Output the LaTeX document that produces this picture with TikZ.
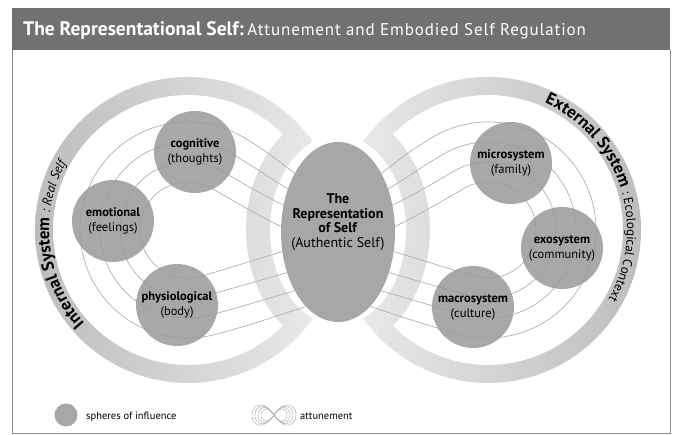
\documentclass[tikz,border=0pt]{standalone}
\usepackage{fontspec}
\setmainfont{PT Sans}
\usetikzlibrary{calc, positioning, shapes, decorations.text}
\definecolor{barGray}{HTML}{717171}
\definecolor{frameGray}{HTML}{8C8C8C}
\definecolor{sphereGray}{HTML}{999999}
\definecolor{selfGray}{HTML}{A7A7A7}
\definecolor{ringDark}{HTML}{BDBDBD}
\definecolor{ringLight}{HTML}{E8E8E8}
\definecolor{lineGray}{HTML}{B0B0B0}
\def\ringbold{\bfseries\fontsize{17}{17}\selectfont}
\def\ringplain{\fontsize{13}{13}\selectfont}
\tikzstyle{sphere}=[circle, fill=sphereGray, fill opacity=0.85, text opacity=1, minimum size=82pt, inner sep=0pt, align=center, font=\fontsize{12.5}{15}\selectfont]
\tikzstyle{self ellipse}=[ellipse, fill=selfGray, minimum width=114pt, minimum height=180pt, inner sep=0pt]
\tikzstyle{self text}=[align=center, inner sep=0pt, font=\fontsize{14}{14.5}\selectfont]
\tikzstyle{key sphere}=[circle, fill=selfGray, minimum size=23pt, inner sep=0pt]
\tikzstyle{attune}=[lineGray, line width=0.7pt]
\tikzstyle{annot}=[anchor=base west, inner sep=0pt, font=\fontsize{10.5}{12}\selectfont]
\tikzstyle{heading}=[anchor=base west, inner sep=0pt, text=white]

\begin{document}
\begin{tikzpicture}[x=1pt, y=1pt]
\useasboundingbox (0,0) rectangle (676,435);

% Draw the frame and the title bar
\draw[frameGray, line width=0.8pt] (12,385) -- (12,2) -- (670,2) -- (670,385);
\fill[barGray] (12,385) rectangle (670,427);
\node[heading, font=\bfseries\fontsize{19.5}{19.5}\selectfont] (title) at (23,399) {The Representational Self:};
\node[heading, font=\fontsize{17}{17}\selectfont\addfontfeatures{LetterSpace=5}] (subtitle) at ([xshift=3pt]title.base east) {Attunement and Embodied Self Regulation};

% Draw the left lobe: outer ring and inner band meet in a point
\begin{scope}
  \clip \foreach \s in {1,-1} {
    ($(188,205)+(\s*35.3:153)$) arc[start angle=\s*35.3, end angle=\s*180, radius=153]
    -- (53,205) arc[start angle=\s*180, end angle=\s*45.1, radius=135]
    arc[start angle=\s*126.5, end angle=\s*180, x radius=92, y radius=119]
    -- (270,205) arc[start angle=\s*180, end angle=\s*111.8, x radius=68, y radius=95] -- cycle};
  \shade[left color=ringDark, right color=ringLight] (35,45) rectangle (315,365);
\end{scope}

% Draw the right lobe
\begin{scope}
  \clip \foreach \s in {1,-1} {
    ($(488,205)+(\s*144.7:153)$) arc[start angle=\s*144.7, end angle=0, radius=153]
    -- (623,205) arc[start angle=0, end angle=\s*134.9, radius=135]
    arc[start angle=\s*53.5, end angle=0, x radius=92, y radius=119]
    -- (406,205) arc[start angle=0, end angle=\s*68.2, x radius=68, y radius=95] -- cycle};
  \shade[left color=ringLight, right color=ringDark] (361,45) rectangle (641,365);
\end{scope}

% Draw the attunement lines on both sides
\foreach \sx/\cx in {1/188, -1/488} {
  \begin{scope}[shift={(\cx,205)}, xscale=\sx]
    \foreach \r/\yt/\yb in {48/-13/-10, 68/10/-33, 88/27/-53, 108/45/-72}
      \draw[attune] (134,\yt) .. controls +(165:35) and +(-30:0.5*\r) .. (60:\r) arc[start angle=60, end angle=285, radius=\r] .. controls +(15:0.5*\r) and +(195:35) .. (134,\yb);
  \end{scope}
}

% Draw the spheres of influence
\node[sphere] (cognitive) at (195,283) {\textbf{cognitive}\\(thoughts)};
\node[sphere] (emotional) at (113,214) {\textbf{emotional}\\(feelings)};
\node[sphere] (physiological) at (177,130) {\textbf{physiological}\\(body)};
\node[sphere] (micro) at (511,272) {\textbf{microsystem}\\(family)};
\node[sphere] (exo) at (562,187) {\textbf{exosystem}\\(community)};
\node[sphere] (macro) at (473,128) {\textbf{macrosystem}\\(culture)};

% Draw the self
\node[self ellipse] (self) at (338,203) {};
\node[self text] (selftext) at ([yshift=10pt]self.center) {\textbf{The}\\\textbf{Representation}\\\textbf{of Self}\\(Authentic Self)};

% Annotate the rings
\path[decorate, decoration={text along path, text align=left, text={|\ringbold|Internal System |\ringplain\itshape|: Real Self}}] ($(188,205)+(222:139)$) arc[start angle=222, end angle=115, radius=139];
\path[decorate, decoration={text along path, text align=left, text={|\ringbold|External System |\ringplain|: Ecological Context}}] ($(488,205)+(66:139)$) arc[start angle=66, end angle=-65, radius=139];

% Draw the legend
\node[key sphere] (key) at (66,20) {};
\node[annot] (keytext) at (86,15) {spheres of influence};
\foreach \a in {22,19,16,13}
  \draw[lineGray, line width=0.5pt, shift={(274,20)}] plot[domain=0:360, samples=73, smooth] ({\a*cos(\x)/(1+sin(\x)*sin(\x))}, {1.3*\a*sin(\x)*cos(\x)/(1+sin(\x)*sin(\x))});
\node[annot] (attunetext) at (300,15) {attunement};
\end{tikzpicture}
\end{document}
